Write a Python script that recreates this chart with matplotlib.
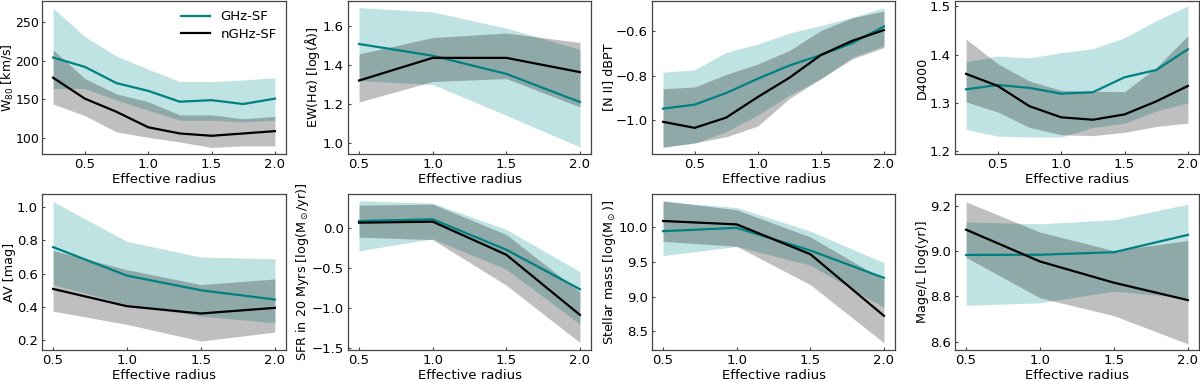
import matplotlib

matplotlib.use("Agg")

import matplotlib.pyplot as plt
from matplotlib.ticker import MultipleLocator

# radial bins (in effective radii)
r_fine = [0.25, 0.5, 0.75, 1.0, 1.25, 1.5, 1.75, 2.0]
r_coarse = [0.5, 1.0, 1.5, 2.0]

# W80 [km/s]
w80_ghz = [204, 192, 171, 161, 147, 149, 144, 151]
w80_ghz_lo = [164, 164, 149, 136, 123, 123, 121, 123]
w80_ghz_hi = [268, 231, 206, 189, 173, 173, 175, 178]
w80_ngh = [178, 151, 134, 114, 106, 103, 106, 109]
w80_ngh_lo = [144, 129, 108, 101, 95, 88, 90, 90]
w80_ngh_hi = [214, 177, 157, 147, 130, 130, 125, 128]

# EW(Halpha) [log(A)]
ew_ghz = [1.507, 1.447, 1.354, 1.21]
ew_ghz_lo = [1.32, 1.30, 1.142, 0.98]
ew_ghz_hi = [1.693, 1.671, 1.588, 1.48]
ew_ngh = [1.32, 1.436, 1.436, 1.363]
ew_ngh_lo = [1.21, 1.315, 1.33, 1.185]
ew_ngh_hi = [1.456, 1.54, 1.563, 1.515]

# [N II] dBPT
bpt_ghz = [-0.947, -0.929, -0.877, -0.813, -0.754, -0.707, -0.653, -0.579]
bpt_ghz_lo = [-1.117, -1.102, -1.05, -0.976, -0.887, -0.813, -0.717, -0.665]
bpt_ghz_hi = [-0.784, -0.773, -0.695, -0.658, -0.609, -0.575, -0.538, -0.496]
bpt_ngh = [-1.006, -1.033, -0.987, -0.895, -0.809, -0.707, -0.643, -0.595]
bpt_ngh_lo = [-1.121, -1.10, -1.073, -1.025, -0.902, -0.813, -0.724, -0.673]
bpt_ngh_hi = [-0.858, -0.85, -0.794, -0.747, -0.687, -0.597, -0.54, -0.51]

# D4000
d4_ghz = [1.328, 1.337, 1.331, 1.319, 1.322, 1.353, 1.368, 1.411]
d4_ghz_lo = [1.245, 1.231, 1.229, 1.229, 1.249, 1.258, 1.283, 1.30]
d4_ghz_hi = [1.385, 1.397, 1.393, 1.404, 1.412, 1.435, 1.47, 1.501]
d4_ngh = [1.360, 1.335, 1.293, 1.270, 1.265, 1.276, 1.303, 1.335]
d4_ngh_lo = [1.302, 1.281, 1.249, 1.234, 1.232, 1.239, 1.251, 1.258]
d4_ngh_hi = [1.432, 1.381, 1.345, 1.326, 1.324, 1.323, 1.373, 1.439]

# AV [mag]
av_ghz = [0.76, 0.588, 0.50, 0.444]
av_ghz_lo = [0.534, 0.414, 0.344, 0.304]
av_ghz_hi = [1.034, 0.794, 0.70, 0.69]
av_ngh = [0.508, 0.404, 0.36, 0.394]
av_ngh_lo = [0.374, 0.294, 0.194, 0.248]
av_ngh_hi = [0.74, 0.624, 0.534, 0.568]

# SFR in 20 Myr [log(Msun/yr)]
sfr_ghz = [0.093, 0.114, -0.267, -0.763]
sfr_ghz_lo = [-0.28, -0.13, -0.513, -1.20]
sfr_ghz_hi = [0.347, 0.318, -0.013, -0.542]
sfr_ngh = [0.072, 0.085, -0.33, -1.085]
sfr_ngh_lo = [-0.11, -0.14, -0.712, -1.432]
sfr_ngh_hi = [0.292, 0.305, -0.076, -0.797]

# stellar mass [log(Msun)]
ms_ghz = [9.937, 9.985, 9.66, 9.267]
ms_ghz_lo = [9.587, 9.718, 9.45, 8.845]
ms_ghz_hi = [10.36, 10.277, 9.937, 9.485]
ms_ngh = [10.083, 10.034, 9.607, 8.723]
ms_ngh_lo = [9.79, 9.72, 9.17, 8.335]
ms_ngh_hi = [10.374, 10.243, 9.854, 9.24]

# mass-weighted age / L [log(yr)]
age_ghz = [8.984, 8.985, 8.996, 9.073]
age_ghz_lo = [8.761, 8.772, 8.824, 8.794]
age_ghz_hi = [9.13, 9.122, 9.14, 9.209]
age_ngh = [9.096, 8.955, 8.861, 8.784]
age_ngh_lo = [8.973, 8.794, 8.715, 8.59]
age_ngh_hi = [9.219, 9.085, 9.003, 9.048]

TEAL = "#008080"
TEAL_FILL = (0.0, 0.55, 0.55, 0.25)
GRAY_FILL = (0.0, 0.0, 0.0, 0.25)

panels = [
    (r_fine, w80_ghz, w80_ghz_lo, w80_ghz_hi, w80_ngh, w80_ngh_lo, w80_ngh_hi,
     "$W_{80}$ [km/s]", (79.5, 277), 50),
    (r_coarse, ew_ghz, ew_ghz_lo, ew_ghz_hi, ew_ngh, ew_ngh_lo, ew_ngh_hi,
     r"EW(H$\alpha$) [log(Å)]", (0.944, 1.727), 0.2),
    (r_fine, bpt_ghz, bpt_ghz_lo, bpt_ghz_hi, bpt_ngh, bpt_ngh_lo, bpt_ngh_hi,
     "[N II] dBPT", (-1.15, -0.465), 0.2),
    (r_fine, d4_ghz, d4_ghz_lo, d4_ghz_hi, d4_ngh, d4_ngh_lo, d4_ngh_hi,
     "D4000", (1.194, 1.511), 0.1),
    (r_coarse, av_ghz, av_ghz_lo, av_ghz_hi, av_ngh, av_ngh_lo, av_ngh_hi,
     "AV [mag]", (0.14, 1.08), 0.2),
    (r_coarse, sfr_ghz, sfr_ghz_lo, sfr_ghz_hi, sfr_ngh, sfr_ngh_lo, sfr_ngh_hi,
     r"SFR in 20 Myrs [log(M$_\odot$/yr)]", (-1.525, 0.432), 0.5),
    (r_coarse, ms_ghz, ms_ghz_lo, ms_ghz_hi, ms_ngh, ms_ngh_lo, ms_ngh_hi,
     r"Stellar mass [log(M$_\odot$)]", (8.233, 10.47), 0.5),
    (r_coarse, age_ghz, age_ghz_lo, age_ghz_hi, age_ngh, age_ngh_lo, age_ngh_hi,
     "Mage/L [log(yr)]", (8.563, 9.254), 0.2),
]

# axes boxes in pixels (left, right) per column, (top, bottom) per row
cols = [(42, 286), (348, 591), (652, 895), (955, 1199)]
rows = [(1, 154), (194, 350)]
W, H = 1200, 381

fig = plt.figure(figsize=(W / 100, H / 100), dpi=100)
plt.rcParams["mathtext.default"] = "regular"

for i, (x, g, glo, ghi, n, nlo, nhi, ylab, ylim, step) in enumerate(panels):
    (x0, x1), (y0, y1) = cols[i % 4], rows[i // 4]
    ax = fig.add_axes([x0 / W, 1 - y1 / H, (x1 - x0) / W, (y1 - y0) / H])
    ax.fill_between(x, glo, ghi, color=TEAL_FILL, linewidth=0)
    ax.fill_between(x, nlo, nhi, color=GRAY_FILL, linewidth=0)
    ax.plot(x, g, color=TEAL, lw=1.6, label="GHz-SF")
    ax.plot(x, n, color="black", lw=1.6, label="nGHz-SF")
    ax.set_ylim(*ylim)
    ax.yaxis.set_major_locator(MultipleLocator(step))
    ax.xaxis.set_major_locator(MultipleLocator(0.5))
    ax.set_xlabel("Effective radius", fontsize=9.5, labelpad=1)
    ax.set_ylabel(ylab, fontsize=9.2, labelpad=0.5)
    ax.tick_params(direction="in", length=2.5, labelsize=9.5, pad=3, color="#444444")
    for s in ax.spines.values():
        s.set_color("#444444")
        s.set_linewidth(0.9)
    if i == 0:
        # first column sits right at the canvas edge: tighten it a little
        ax.tick_params(axis="y", pad=2, labelsize=9)
        ax.yaxis.label.set_fontsize(9)
        ax.yaxis.set_label_coords(-0.106, 0.5)
        ax.legend(loc="upper right", frameon=False, fontsize=9.5, handlelength=2.2,
                  borderaxespad=0.3, labelspacing=0.35)

fig.savefig("out.png", dpi=100, facecolor="white")
